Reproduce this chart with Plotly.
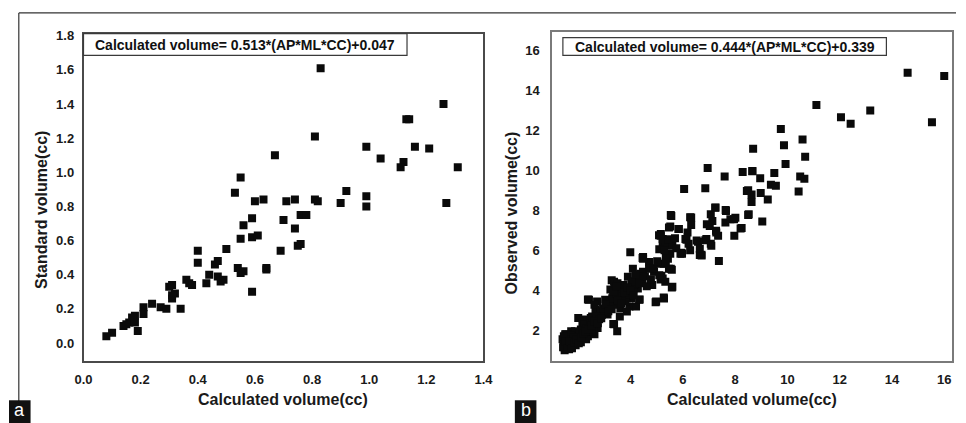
import plotly.graph_objects as go

W, H = 966, 423

# ---- Panel a data (Calculated volume vs Standard volume) ----
a_x = [0.83, 1.26, 1.13, 1.14, 0.81, 0.67, 0.99, 1.16, 1.21, 1.04, 1.12, 1.11, 1.31,
       0.55, 0.53, 0.92, 0.99, 0.99, 1.27, 0.90, 0.60, 0.63, 0.71, 0.74, 0.81, 0.82,
       0.56, 0.59, 0.55, 0.59, 0.61, 0.70, 0.74, 0.76, 0.78, 0.75, 0.69, 0.50, 0.40,
       0.40, 0.47, 0.46, 0.54, 0.55, 0.64, 0.64, 0.59, 0.44, 0.43, 0.47, 0.48, 0.49,
       0.36, 0.37, 0.38, 0.30, 0.31, 0.32, 0.31, 0.31, 0.34, 0.24, 0.27, 0.29, 0.21,
       0.21, 0.18, 0.17, 0.16, 0.14, 0.19, 0.10, 0.08, 0.18, 0.15, 0.76, 0.56]
a_y = [1.61, 1.40, 1.31, 1.31, 1.21, 1.10, 1.15, 1.15, 1.14, 1.08, 1.06, 1.03, 1.03,
       0.97, 0.88, 0.89, 0.86, 0.80, 0.82, 0.82, 0.83, 0.84, 0.83, 0.84, 0.84, 0.83,
       0.69, 0.73, 0.61, 0.62, 0.63, 0.72, 0.67, 0.75, 0.75, 0.57, 0.54, 0.55, 0.54,
       0.47, 0.48, 0.46, 0.44, 0.41, 0.44, 0.43, 0.30, 0.40, 0.35, 0.39, 0.36, 0.37,
       0.37, 0.35, 0.34, 0.33, 0.34, 0.29, 0.26, 0.28, 0.20, 0.23, 0.21, 0.20, 0.21,
       0.17, 0.16, 0.15, 0.12, 0.10, 0.07, 0.06, 0.04, 0.12, 0.11, 0.58, 0.42]

# ---- Panel b data (Calculated volume vs Observed volume) ----
b_x = [14.60, 16.00, 11.11, 12.05, 12.42, 13.17, 15.53, 9.75, 10.58, 8.69, 9.87, 10.68,
       9.93, 6.95, 7.60, 8.29, 8.66, 9.50, 8.96, 10.49, 10.65, 9.37, 9.56, 10.43, 6.05,
       6.86, 8.50, 8.63, 8.98, 8.63, 9.25, 9.04, 8.50, 8.25, 7.97, 7.64, 7.25, 7.07,
       7.13, 6.92, 7.63, 7.82, 8.01, 7.27, 7.35, 7.07, 6.86, 6.58, 6.71, 7.38, 6.28,
       6.28, 6.32, 6.18, 6.14, 5.95, 5.56, 5.52, 5.83, 5.15, 5.23, 5.39, 5.52, 5.43,
       5.27, 5.58, 5.18, 5.15, 5.33, 5.58, 5.27, 4.96, 3.99, 4.46, 4.71, 4.09, 4.90,
       4.40, 4.46, 4.28, 4.83, 3.90, 3.28, 3.41, 3.59, 3.34, 3.16, 3.41, 3.96, 4.21,
       4.33, 4.03, 3.59, 3.34, 3.49, 3.03, 2.72, 2.41, 2.66, 2.91, 2.53, 2.29, 2.72,
       2.00, 2.47, 2.62, 2.10, 2.22, 1.98, 1.73, 1.79, 1.54, 1.48, 1.58, 1.66, 1.91,
       2.16, 2.35, 2.85, 3.09,
       6.32, 7.24, 4.48, 2.37, 3.37, 1.50, 1.50, 4.98, 5.28, 5.60, 5.23, 5.16, 5.54,
       6.65, 5.91, 5.09, 5.35, 3.37, 3.23, 3.86, 4.35, 4.11, 3.74, 4.48, 4.72, 2.62,
       2.86, 2.48, 2.25, 1.88, 2.00, 1.75, 2.37, 2.74, 3.12, 3.23, 3.61, 3.86,
       8.66, 5.54, 7.65, 8.45, 8.52, 7.96, 8.21, 6.72, 5.97, 5.23, 5.16, 5.47, 5.85,
       6.10, 6.22, 6.53, 6.90, 7.03, 7.28, 7.09, 6.65, 5.60, 5.35, 4.48, 4.73, 5.47,
       5.35, 5.10,
       1.45, 1.55, 1.62, 1.70, 1.85, 1.95, 2.05, 2.15, 1.60, 1.70, 1.80, 1.52, 2.30,
       2.45, 2.55, 2.70, 2.80, 3.00, 3.20, 3.30, 3.45, 3.55, 3.70, 3.80, 3.95, 4.15,
       4.25, 4.05, 3.50, 3.40, 1.48, 1.65, 1.90, 2.10, 2.30, 2.50, 2.60, 1.40, 1.45,
       1.42, 1.50, 1.58, 1.68, 1.76, 1.84, 1.92, 2.02, 2.12, 2.20, 2.28, 2.40, 2.52,
       2.62, 2.75, 2.88, 2.95, 3.05, 3.15, 3.28, 3.35, 3.45, 3.52, 3.65, 3.78, 3.88,
       4.00, 4.12, 4.20, 4.35, 4.55, 4.62, 4.78, 4.88, 5.02, 5.10, 5.30, 5.45, 5.70,
       5.75]
b_y = [14.88, 14.72, 13.27, 12.66, 12.33, 12.99, 12.41, 12.07, 11.54, 11.08, 11.26, 10.68,
       10.32, 10.12, 9.69, 9.92, 9.97, 9.87, 9.61, 9.69, 9.58, 9.28, 9.23, 8.94, 9.07,
       9.10, 9.00, 8.79, 8.87, 8.41, 8.54, 7.44, 7.77, 7.11, 6.73, 8.01, 8.14, 7.80,
       7.47, 7.30, 7.39, 7.55, 7.63, 6.98, 6.73, 6.32, 6.50, 6.43, 5.77, 5.46, 6.00,
       7.65, 7.26, 6.89, 6.53, 5.87, 7.72, 7.19, 7.06, 6.73, 6.37, 6.32, 5.82, 5.57,
       5.33, 5.03, 4.72, 4.54, 4.42, 4.13, 3.63, 3.40, 5.90, 5.61, 5.25, 5.08, 4.92,
       4.83, 4.42, 4.09, 4.26, 4.67, 4.50, 4.26, 3.93, 3.76, 3.43, 3.27, 3.19, 3.19,
       3.52, 3.60, 2.69, 2.31, 1.95, 3.52, 3.43, 3.52, 3.02, 2.77, 2.69, 2.53, 2.44,
       2.61, 2.20, 1.79, 2.03, 1.70, 1.46, 1.95, 1.37, 1.79, 1.13, 1.46, 1.62, 1.79,
       2.36, 2.44, 2.94, 3.10,
       7.64, 8.13, 5.66, 3.53, 2.30, 1.80, 1.11, 3.43, 3.58, 4.17, 4.59, 5.33, 5.08,
       5.76, 5.82, 6.75, 6.25, 4.42, 4.03, 3.60, 3.53, 4.09, 4.26, 4.92, 5.41, 3.27,
       2.94, 2.61, 2.30, 1.95, 1.62, 1.46, 1.70, 2.11, 2.78, 3.10, 3.10, 2.94,
       9.96, 7.76, 7.97, 8.96, 7.80, 7.55, 7.09, 5.74, 5.82, 6.56, 6.81, 7.14, 7.06,
       6.56, 6.32, 6.49, 6.56, 7.22, 6.89, 6.23, 6.07, 6.23, 5.74, 5.57, 5.08, 5.08,
       5.41, 4.75,
       1.30, 1.20, 1.35, 1.25, 1.55, 1.70, 1.85, 2.00, 1.60, 1.75, 1.65, 1.52, 2.10,
       2.35, 2.50, 2.70, 2.55, 2.90, 3.30, 3.60, 3.85, 4.10, 3.70, 3.45, 3.80, 4.30,
       4.60, 4.45, 4.35, 4.05, 1.00, 1.05, 1.25, 1.40, 1.55, 1.95, 2.20, 1.55, 1.70,
       1.15, 1.45, 1.10, 1.45, 1.10, 1.40, 1.55, 1.35, 1.65, 1.85, 1.95, 2.05, 2.25,
       2.45, 2.35, 2.60, 3.10, 3.30, 2.95, 3.05, 3.95, 4.20, 3.50, 3.35, 3.90, 4.15,
       4.00, 3.75, 4.80, 4.35, 4.70, 4.20, 4.55, 5.10, 5.45, 6.05, 6.00, 6.55, 6.60,
       6.10]

a_ticks = [0.0, 0.2, 0.4, 0.6, 0.8, 1.0, 1.2, 1.4]
a_yticks = [0.0, 0.2, 0.4, 0.6, 0.8, 1.0, 1.2, 1.4, 1.6, 1.8]
b_ticks = [2, 4, 6, 8, 10, 12, 14, 16]

eq_a = "Calculated volume= 0.513*(AP*ML*CC)+0.047"
eq_b = "Calculated volume= 0.444*(AP*ML*CC)+0.339"
x_title = "Calculated volume(cc)"
ya_title = "Standard volume(cc)"
yb_title = "Observed volume(cc)"


def px(x):
    return x / W


def py(y):
    return 1 - y / H


FONT = "Liberation Sans, Arial, sans-serif"
marker = dict(symbol="square", size=8, color="#0a0a0a", line=dict(width=0))

fig = go.Figure()
fig.add_trace(go.Scatter(x=a_x, y=a_y, mode="markers", marker=marker,
                         xaxis="x", yaxis="y", hoverinfo="skip"))
fig.add_trace(go.Scatter(x=b_x, y=b_y, mode="markers", marker=marker,
                         xaxis="x2", yaxis="y2", hoverinfo="skip"))

tickfont = dict(family=FONT, size=13, color="#1a1a1a", weight="bold")
common = dict(showgrid=False, zeroline=False, showline=True, mirror=True,
              ticks="", tickfont=tickfont, fixedrange=True)

ax_l, ax_r, ax_t, ax_b = 76, 484, 29, 360
bx_l, bx_r, bx_t, bx_b = 554, 962, 27, 360

fig.update_layout(
    width=W, height=H, margin=dict(l=0, r=0, t=0, b=0),
    paper_bgcolor="white", plot_bgcolor="white", showlegend=False,
    xaxis=dict(domain=[px(ax_l), px(ax_r)], range=[0, 1.4], anchor="y",
               tickvals=a_ticks, ticktext=[f"{v:.1f}" for v in a_ticks],
               linecolor="#4a4a4a", linewidth=1.5, ticklabelstandoff=6, **common),
    yaxis=dict(domain=[py(ax_b), py(ax_t)], range=[-0.104, 1.812], anchor="x",
               tickvals=a_yticks, ticktext=[f"{v:.1f}" for v in a_yticks],
               linecolor="#4a4a4a", linewidth=1.5, ticklabelstandoff=5, **common),
    xaxis2=dict(domain=[px(bx_l), px(bx_r)], range=[1.0, 16.3], anchor="y2",
                tickvals=b_ticks, ticktext=[str(v) for v in b_ticks],
                linecolor="#7a7a7a", linewidth=1.5, ticklabelstandoff=6, **common),
    yaxis2=dict(domain=[py(bx_b), py(bx_t)], range=[0.47, 16.94], anchor="x2",
                tickvals=b_ticks, ticktext=[str(v) for v in b_ticks],
                linecolor="#7a7a7a", linewidth=1.5, ticklabelstandoff=8, **common),
)

shapes = []
annotations = []

# outer frame (top and left lines)
shapes.append(dict(type="line", xref="paper", yref="paper", x0=px(10), x1=1.0,
                   y0=py(8), y1=py(8), line=dict(color="#333", width=1.2)))
shapes.append(dict(type="line", xref="paper", yref="paper", x0=px(10), x1=px(10),
                   y0=py(8), y1=0, line=dict(color="#333", width=1.2)))

# equation boxes
shapes.append(dict(type="rect", xref="paper", yref="paper", x0=px(76), x1=px(406),
                   y0=py(51), y1=py(29), line=dict(color="#3a3a3a", width=1.2),
                   fillcolor="white"))
shapes.append(dict(type="rect", xref="paper", yref="paper", x0=px(565), x1=px(895),
                   y0=py(51), y1=py(33), line=dict(color="#3a3a3a", width=1.2),
                   fillcolor="white"))
eqfont = dict(family=FONT, size=14, color="#111", weight="bold")
annotations.append(dict(text=eq_a, xref="paper", yref="paper", x=px(241), y=py(40),
                        showarrow=False, xanchor="center", yanchor="middle", font=eqfont))
annotations.append(dict(text=eq_b, xref="paper", yref="paper", x=px(730), y=py(42),
                        showarrow=False, xanchor="center", yanchor="middle", font=eqfont))

# axis titles
tfont = dict(family=FONT, size=16, color="#1a1a1a", weight="bold")
annotations.append(dict(text=x_title, xref="paper", yref="paper", x=px(280), y=py(399),
                        showarrow=False, xanchor="center", yanchor="middle", font=tfont))
annotations.append(dict(text=x_title, xref="paper", yref="paper", x=px(758), y=py(399),
                        showarrow=False, xanchor="center", yanchor="middle", font=tfont))
annotations.append(dict(text=ya_title, xref="paper", yref="paper", x=px(33), y=py(207),
                        showarrow=False, xanchor="center", yanchor="middle",
                        textangle=-90, font=tfont))
annotations.append(dict(text=yb_title, xref="paper", yref="paper", x=px(513), y=py(210),
                        showarrow=False, xanchor="center", yanchor="middle",
                        textangle=-90, font=tfont))

# panel letters
shapes.append(dict(type="rect", xref="paper", yref="paper", x0=0, x1=px(22),
                   y0=0, y1=py(400), line=dict(width=0), fillcolor="#111"))
shapes.append(dict(type="rect", xref="paper", yref="paper", x0=px(516), x1=px(538),
                   y0=0, y1=py(400), line=dict(width=0), fillcolor="#111"))
lfont = dict(family=FONT, size=18, color="white")
annotations.append(dict(text="a", xref="paper", yref="paper", x=px(11), y=py(410),
                        showarrow=False, xanchor="center", yanchor="middle", font=lfont))
annotations.append(dict(text="b", xref="paper", yref="paper", x=px(527), y=py(410),
                        showarrow=False, xanchor="center", yanchor="middle", font=lfont))

fig.update_layout(shapes=shapes, annotations=annotations)

fig.write_html("out.html", config={"displayModeBar": False},
               post_script="document.body.style.margin='0';document.body.style.overflow='hidden';")
